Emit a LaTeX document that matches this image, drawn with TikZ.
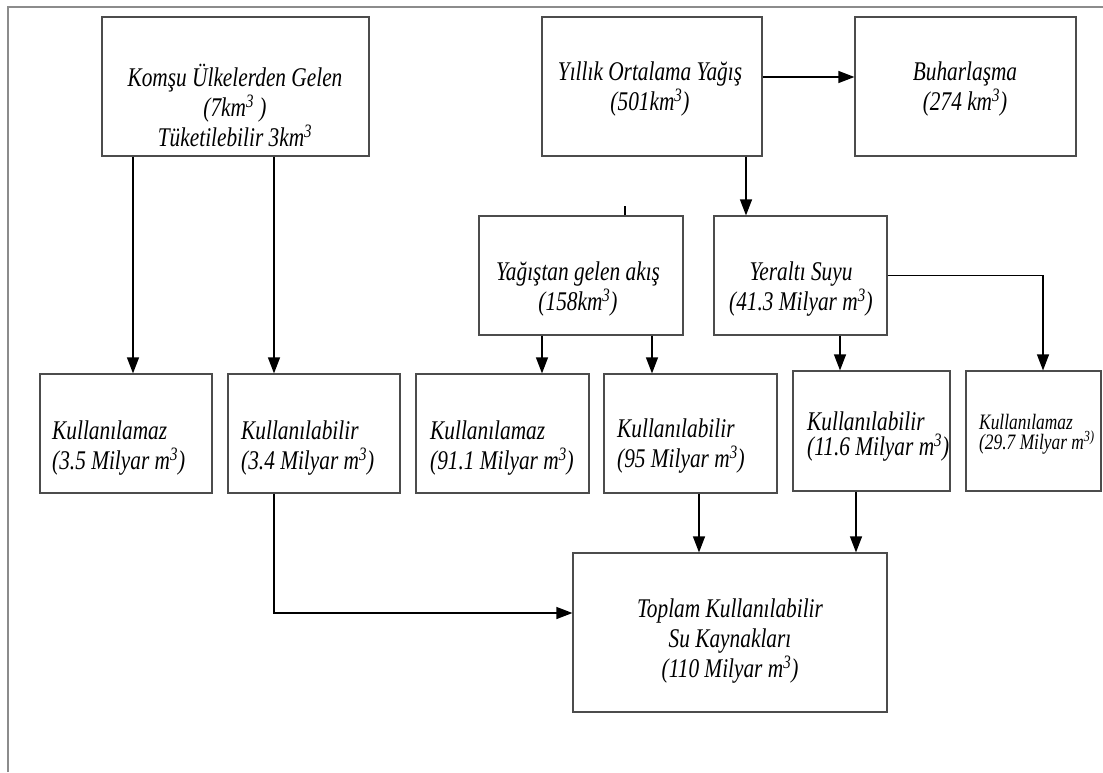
\documentclass[tikz,border=0pt]{standalone}
\usepackage{fontspec}
\setmainfont{Liberation Serif}[FakeStretch=0.79]
\usetikzlibrary{arrows.meta}
\newcommand{\kup}{\textsuperscript{3}}
\begin{document}
\begin{tikzpicture}[x=1pt,y=-1pt,
    kutu/.style={draw=black!70, line width=1.2pt, inner sep=0pt},
    yazi/.style={inner sep=0pt, align=center, font=\itshape\fontsize{27}{30}\selectfont},
    solyazi/.style={yazi, align=left, anchor=west},
    ok/.style={line width=1.2pt, -{Triangle[length=16pt,width=12pt]}}]
    \useasboundingbox (0,0) rectangle (1103,772);
    % sayfa kenari
    \draw [black!45, line width=1.5pt] (8,772) -- (8,7) -- (1103,7);
    % ust sira
    \node [kutu, minimum width=267pt, minimum height=139pt] (komsu) at (235.5,86.5) {};
    \node [kutu, minimum width=220pt, minimum height=139pt] (yillik) at (652,86.5) {};
    \node [kutu, minimum width=221pt, minimum height=139pt] (buhar) at (965.5,86.5) {};
    \node [yazi] (komsuyazi) at (235,105.5) {Komşu Ülkelerden Gelen\\(7km\kup\ )\\Tüketilebilir 3km\kup};
    \node [yazi] (yillikyazi) at (650,89) {Yıllık Ortalama Yağış\\(501km\kup)};
    \node [yazi] (buharyazi) at (965,89) {Buharlaşma\\(274 km\kup)};
    % orta sira
    \node [kutu, minimum width=204pt, minimum height=119pt] (akis) at (581,275.5) {};
    \node [kutu, minimum width=173pt, minimum height=119pt] (yeralti) at (800.5,275.5) {};
    \node [yazi] (akisyazi) at (578,289) {Yağıştan gelen akış\\(158km\kup)};
    \node [yazi] (yeraltiyazi) at (801,289) {Yeraltı Suyu\\(41.3 Milyar m\kup)};
    % alt sira
    \node [kutu, minimum width=172pt, minimum height=119pt] (k1) at (126,433.5) {};
    \node [kutu, minimum width=172pt, minimum height=119pt] (k2) at (314,433.5) {};
    \node [kutu, minimum width=173pt, minimum height=119pt] (k3) at (502.5,433.5) {};
    \node [kutu, minimum width=173pt, minimum height=119pt] (k4) at (690.5,433.5) {};
    \node [kutu, minimum width=157pt, minimum height=120pt] (k5) at (871.5,431) {};
    \node [kutu, minimum width=135pt, minimum height=120pt] (k6) at (1033.5,431) {};
    \node [solyazi] (k1yazi) at (52,448) {Kullanılamaz\\(3.5 Milyar m\kup)};
    \node [solyazi] (k2yazi) at (241,448) {Kullanılabilir\\(3.4 Milyar m\kup)};
    \node [solyazi] (k3yazi) at (430,448) {Kullanılamaz\\(91.1 Milyar m\kup)};
    \node [solyazi] (k4yazi) at (617,446) {Kullanılabilir\\(95 Milyar m\kup)};
    \node [solyazi, font=\itshape\fontsize{27}{25}\selectfont] (k5yazi) at (807,437) {Kullanılabilir\\(11.6 Milyar m\kup)};
    \node [solyazi, font=\itshape\fontsize{22}{20}\selectfont] (k6yazi) at (979,434) {Kullanılamaz\\(29.7 Milyar m\textsuperscript{3)}};
    % toplam
    \node [kutu, minimum width=314pt, minimum height=159pt] (toplam) at (730,632.5) {};
    \node [yazi] (toplamyazi) at (730,641) {Toplam Kullanılabilir\\Su Kaynakları\\(110 Milyar m\kup)};
    % ok uclari
    \coordinate (g1) at ([xshift=7pt]k1.north);
    \coordinate (g2) at ([xshift=-40pt]k2.north);
    \coordinate (g3) at ([xshift=39.5pt]k3.north);
    \coordinate (g4) at ([xshift=-38.5pt]k4.north);
    \coordinate (g5) at ([xshift=-31.5pt]k5.north);
    \coordinate (g6) at ([xshift=9.5pt]k6.north);
    \coordinate (gb) at ([yshift=9.5pt]buhar.west);
    \coordinate (gy) at ([xshift=-54.5pt]yeralti.north);
    \coordinate (gt1) at ([yshift=19.5pt]toplam.west);
    \coordinate (gt2) at ([xshift=-31pt]toplam.north);
    \coordinate (gt3) at ([xshift=126pt]toplam.north);
    \coordinate (uc) at ([xshift=44pt]akis.north);
    \draw [ok] (g1 |- komsu.south) -- (g1);
    \draw [ok] (g2 |- komsu.south) -- (g2);
    \draw [ok] (gb -| yillik.east) -- (gb);
    \draw [ok] (gy |- yillik.south) -- (gy);
    \draw [line width=1.2pt] (uc) -- ++(0,-9);
    \draw [ok] (g3 |- akis.south) -- (g3);
    \draw [ok] (g4 |- akis.south) -- (g4);
    \draw [ok] (g5 |- yeralti.south) -- (g5);
    \draw [ok] (yeralti.east) -| (g6);
    \draw [ok] (g2 |- k2.south) |- (gt1);
    \draw [ok] (gt2 |- k4.south) -- (gt2);
    \draw [ok] (gt3 |- k5.south) -- (gt3);
\end{tikzpicture}
\end{document}
